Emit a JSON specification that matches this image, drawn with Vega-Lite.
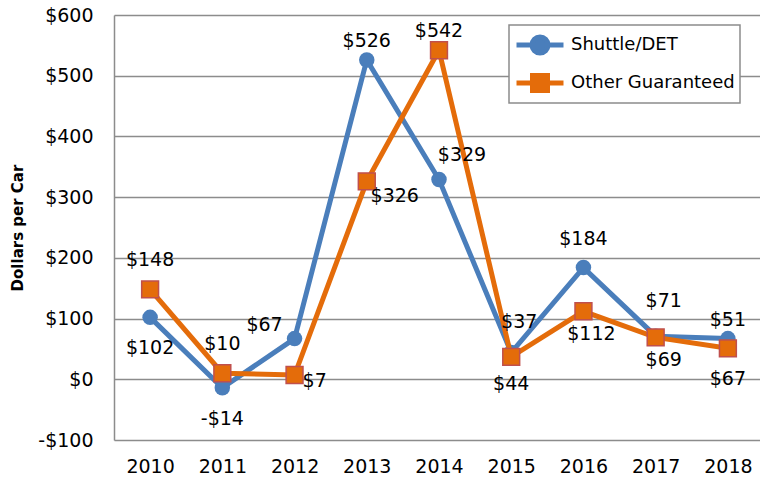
{
  "$schema": "https://vega.github.io/schema/vega-lite/v6.json",
  "width": 650,
  "height": 425,
  "autosize": {"type": "none"},
  "padding": {"left": 114, "top": 15, "right": 0, "bottom": 38},
  "background": "white",
  "config": {"view": {"stroke": null}, "font": "DejaVu Sans"},
  "datasets": {
    "series": [
      {"year": "2010", "series": "Shuttle/DET", "value": 102},
      {"year": "2011", "series": "Shuttle/DET", "value": -14},
      {"year": "2012", "series": "Shuttle/DET", "value": 67},
      {"year": "2013", "series": "Shuttle/DET", "value": 526},
      {"year": "2014", "series": "Shuttle/DET", "value": 329},
      {"year": "2015", "series": "Shuttle/DET", "value": 44},
      {"year": "2016", "series": "Shuttle/DET", "value": 184},
      {"year": "2017", "series": "Shuttle/DET", "value": 71},
      {"year": "2018", "series": "Shuttle/DET", "value": 67},
      {"year": "2010", "series": "Other Guaranteed", "value": 148},
      {"year": "2011", "series": "Other Guaranteed", "value": 10},
      {"year": "2012", "series": "Other Guaranteed", "value": 7},
      {"year": "2013", "series": "Other Guaranteed", "value": 326},
      {"year": "2014", "series": "Other Guaranteed", "value": 542},
      {"year": "2015", "series": "Other Guaranteed", "value": 37},
      {"year": "2016", "series": "Other Guaranteed", "value": 112},
      {"year": "2017", "series": "Other Guaranteed", "value": 69},
      {"year": "2018", "series": "Other Guaranteed", "value": 51}
    ],
    "lab_above": [
      {"year": "2010", "value": 148, "label": "$148"},
      {"year": "2011", "value": 10, "label": "$10"},
      {"year": "2016", "value": 184, "label": "$184"}
    ],
    "lab_above_near": [
      {"year": "2013", "value": 526, "label": "$526"},
      {"year": "2014", "value": 542, "label": "$542"},
      {"year": "2018", "value": 67, "label": "$51"}
    ],
    "lab_below": [
      {"year": "2010", "value": 102, "label": "$102"},
      {"year": "2011", "value": -14, "label": "-$14"},
      {"year": "2015", "value": 44, "label": "$44"},
      {"year": "2018", "value": 51, "label": "$67"}
    ],
    "lab_below_right": [
      {"year": "2016", "value": 112, "label": "$112"},
      {"year": "2017", "value": 69, "label": "$69"}
    ],
    "lab_left_up": [
      {"year": "2012", "value": 67, "label": "$67"}
    ],
    "lab_right": [
      {"year": "2012", "value": 7, "label": "$7"}
    ],
    "lab_right_down": [
      {"year": "2013", "value": 326, "label": "$326"}
    ],
    "lab_right_up": [
      {"year": "2014", "value": 329, "label": "$329"}
    ],
    "lab_up_far": [
      {"year": "2015", "value": 37, "label": "$37"},
      {"year": "2017", "value": 71, "label": "$71"}
    ]
  },
  "encoding": {
    "x": {
      "field": "year",
      "type": "ordinal",
      "scale": {"type": "point", "padding": 0.5},
      "axis": {
        "title": null,
        "domain": false,
        "ticks": false,
        "grid": false,
        "labelAngle": 0,
        "labelFontSize": 19,
        "labelColor": "#000000",
        "labelPadding": 17
      }
    },
    "y": {
      "field": "value",
      "type": "quantitative",
      "scale": {"domain": [-100, 600], "nice": false, "zero": false},
      "axis": {
        "title": "Dollars per Car",
        "titleFontSize": 15,
        "titleFontWeight": "bold",
        "titleColor": "#000000",
        "titlePadding": 12,
        "values": [-100, 0, 100, 200, 300, 400, 500, 600],
        "labelExpr": "datum.value < 0 ? '-$' + abs(datum.value) : '$' + datum.value",
        "labelFontSize": 19,
        "labelColor": "#000000",
        "labelPadding": 21,
        "ticks": false,
        "domain": true,
        "domainColor": "#8c8c8c",
        "domainWidth": 1.5,
        "grid": true,
        "gridColor": "#8c8c8c",
        "gridWidth": 1.5
      }
    }
  },
  "layer": [
    {
      "data": {"name": "series"},
      "transform": [{"filter": "datum.series === 'Shuttle/DET'"}],
      "mark": {"type": "line", "strokeWidth": 5},
      "encoding": {
        "color": {
          "field": "series",
          "type": "nominal",
          "scale": {"domain": ["Shuttle/DET", "Other Guaranteed"], "range": ["#4A7EBB", "#E46C0A"]},
          "legend": {
            "title": null,
            "orient": "none",
            "legendX": 395,
            "legendY": 10,
            "padding": 5,
            "fillColor": "white",
            "strokeColor": "#8c8c8c",
            "labelFontSize": 18,
            "labelColor": "#000000",
            "labelLimit": 400,
            "labelOffset": 5,
            "symbolSize": 2209,
            "symbolStrokeWidth": 5,
            "clipHeight": 30,
            "rowPadding": 8,
            "encode": {
              "symbols": {
                "update": {
                  "shape": {"signal": "datum.value === 'Shuttle/DET' ? 'M-1,0H1M0.34,0A0.34,0.34 0 1,1 -0.34,0A0.34,0.34 0 1,1 0.34,0Z' : 'M-1,0H1M-0.32,-0.32H0.32V0.32H-0.32Z'"},
                  "fill": {"signal": "scale('color', datum.value)"},
                  "stroke": {"signal": "scale('color', datum.value)"},
                  "strokeWidth": {"value": 5},
                  "opacity": {"value": 1}
                }
              },
              "legend": {"update": {"strokeWidth": {"value": 1.5}}}
            }
          }
        }
      }
    },
    {
      "data": {"name": "series"},
      "transform": [{"filter": "datum.series === 'Shuttle/DET'"}],
      "mark": {"type": "circle", "size": 240, "opacity": 1},
      "encoding": {"color": {"field": "series", "type": "nominal"}}
    },
    {
      "data": {"name": "series"},
      "transform": [{"filter": "datum.series === 'Other Guaranteed'"}],
      "mark": {"type": "line", "strokeWidth": 5},
      "encoding": {"color": {"field": "series", "type": "nominal"}}
    },
    {
      "data": {"name": "series"},
      "transform": [{"filter": "datum.series === 'Other Guaranteed'"}],
      "mark": {"type": "square", "size": 285, "opacity": 1, "stroke": "#C0504D", "strokeWidth": 1.5},
      "encoding": {"color": {"field": "series", "type": "nominal"}}
    },
    {
      "data": {"name": "lab_above"},
      "mark": {"type": "text", "fontSize": 19, "color": "#000000", "baseline": "middle", "dy": -29},
      "encoding": {"text": {"field": "label"}}
    },
    {
      "data": {"name": "lab_above_near"},
      "mark": {"type": "text", "fontSize": 19, "color": "#000000", "baseline": "middle", "dy": -19},
      "encoding": {"text": {"field": "label"}}
    },
    {
      "data": {"name": "lab_below"},
      "mark": {"type": "text", "fontSize": 19, "color": "#000000", "baseline": "middle", "dy": 31},
      "encoding": {"text": {"field": "label"}}
    },
    {
      "data": {"name": "lab_below_right"},
      "mark": {"type": "text", "fontSize": 19, "color": "#000000", "baseline": "middle", "dx": 8, "dy": 23},
      "encoding": {"text": {"field": "label"}}
    },
    {
      "data": {"name": "lab_left_up"},
      "mark": {"type": "text", "fontSize": 19, "color": "#000000", "baseline": "middle", "dx": -30, "dy": -14},
      "encoding": {"text": {"field": "label"}}
    },
    {
      "data": {"name": "lab_right"},
      "mark": {"type": "text", "fontSize": 19, "color": "#000000", "baseline": "middle", "align": "left", "dx": 8, "dy": 6},
      "encoding": {"text": {"field": "label"}}
    },
    {
      "data": {"name": "lab_right_down"},
      "mark": {"type": "text", "fontSize": 19, "color": "#000000", "baseline": "middle", "dx": 28, "dy": 15},
      "encoding": {"text": {"field": "label"}}
    },
    {
      "data": {"name": "lab_right_up"},
      "mark": {"type": "text", "fontSize": 19, "color": "#000000", "baseline": "middle", "dx": 23, "dy": -25},
      "encoding": {"text": {"field": "label"}}
    },
    {
      "data": {"name": "lab_up_far"},
      "mark": {"type": "text", "fontSize": 19, "color": "#000000", "baseline": "middle", "dx": 8, "dy": -35},
      "encoding": {"text": {"field": "label"}}
    }
  ]
}
